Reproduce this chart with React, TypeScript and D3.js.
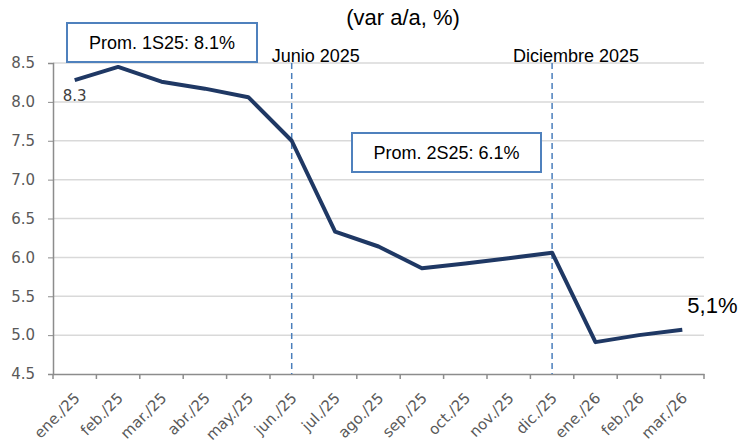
import React, { useRef, useEffect } from "react";
import * as d3 from "d3";

const months = [
  "ene./25", "feb./25", "mar./25", "abr./25", "may./25", "jun./25", "jul./25",
  "ago./25", "sep./25", "oct./25", "nov./25", "dic./25", "ene./26", "feb./26", "mar./26",
];
const inflation = [8.28, 8.45, 8.26, 8.17, 8.06, 7.5, 6.33, 6.14, 5.86, 5.92, 5.99, 6.06, 4.91, 5.0, 5.07];
const yTicks = [4.5, 5.0, 5.5, 6.0, 6.5, 7.0, 7.5, 8.0, 8.5];
const markers = [
  { month: "jun./25", label: "Junio 2025" },
  { month: "dic./25", label: "Diciembre 2025" },
];
const averages = [
  { label: "Prom. 1S25: 8.1%", x0: 67, y0: 23, x1: 257, y1: 62 },
  { label: "Prom. 2S25: 6.1%", x0: 352, y0: 133, x1: 541, y1: 172 },
];

function App() {
  const svgRef = useRef<SVGSVGElement | null>(null);

  useEffect(() => {
    const width = 741;
    const height = 448;
    const margin = { top: 63, right: 37, bottom: 74, left: 53 };
    const font = "'Liberation Sans', Arial, sans-serif";
    const axisFont = "'DejaVu Sans', Verdana, sans-serif";

    const svg = d3.select(svgRef.current);
    svg.selectAll("*").remove();
    svg.attr("width", width).attr("height", height);

    const x = d3.scaleBand().domain(months).range([margin.left, width - margin.right]);
    const y = d3.scaleLinear().domain([4.5, 8.5]).range([height - margin.bottom, margin.top]);
    const cx = (m: string) => (x(m) as number) + x.bandwidth() / 2;

    // grid
    svg.append("g")
      .selectAll("line")
      .data(yTicks.slice(1))
      .enter()
      .append("line")
      .attr("x1", margin.left)
      .attr("x2", width - margin.right)
      .attr("y1", (d) => y(d))
      .attr("y2", (d) => y(d))
      .attr("stroke", "#d9d9d9")
      .attr("stroke-width", 1.5);

    // y axis
    const yAxis = svg.append("g")
      .attr("transform", `translate(${margin.left},0)`)
      .call(d3.axisLeft(y).tickValues(yTicks).tickFormat(d3.format(".1f")).tickSize(5).tickPadding(13));
    yAxis.select(".domain").attr("stroke", "#8c8c8c").attr("stroke-width", 1.5);
    yAxis.selectAll(".tick line").attr("stroke", "#8c8c8c");
    yAxis.selectAll("text")
      .attr("fill", "#595959")
      .style("font-family", axisFont)
      .style("font-size", "15px");

    // x axis
    const xAxis = svg.append("g")
      .attr("transform", `translate(0,${height - margin.bottom})`)
      .call(d3.axisBottom(x).tickSize(0).tickFormat(() => ""));
    xAxis.select(".domain").attr("stroke", "#8c8c8c").attr("stroke-width", 1.5);
    xAxis.selectAll(".tick").remove();

    const bounds = months.map((m) => x(m) as number).concat([width - margin.right]);
    svg.append("g")
      .selectAll("line")
      .data(bounds)
      .enter()
      .append("line")
      .attr("x1", (d) => d)
      .attr("x2", (d) => d)
      .attr("y1", height - margin.bottom)
      .attr("y2", height - margin.bottom + 5)
      .attr("stroke", "#8c8c8c")
      .attr("stroke-width", 1.5);

    svg.append("g")
      .selectAll("text")
      .data(months)
      .enter()
      .append("text")
      .attr("transform", (d) => `translate(${cx(d) + 6},${height - margin.bottom + 25}) rotate(-45)`)
      .attr("text-anchor", "end")
      .attr("fill", "#595959")
      .style("font-family", axisFont)
      .style("font-size", "15px")
      .text((d) => d);

    // vertical markers
    markers.forEach((mk) => {
      svg.append("line")
        .attr("x1", cx(mk.month))
        .attr("x2", cx(mk.month))
        .attr("y1", y(8.5))
        .attr("y2", y(4.5))
        .attr("stroke", "#4a7ebb")
        .attr("stroke-width", 1.5)
        .attr("stroke-dasharray", "6,4");
      svg.append("text")
        .attr("x", cx(mk.month) + 24)
        .attr("y", y(8.5) - 1)
        .attr("text-anchor", "middle")
        .attr("fill", "#000")
        .style("font-family", font)
        .style("font-size", "18px")
        .text(mk.label);
    });

    // line
    const line = d3.line<number>()
      .x((_, i) => cx(months[i]))
      .y((d) => y(d));
    svg.append("path")
      .datum(inflation)
      .attr("fill", "none")
      .attr("stroke", "#1f3864")
      .attr("stroke-width", 4)
      .attr("stroke-linejoin", "round")
      .attr("d", line);

    // average boxes
    averages.forEach((a) => {
      svg.append("rect")
        .attr("x", a.x0)
        .attr("y", a.y0)
        .attr("width", a.x1 - a.x0)
        .attr("height", a.y1 - a.y0)
        .attr("fill", "#fff")
        .attr("stroke", "#4f81bd")
        .attr("stroke-width", 2);
      svg.append("text")
        .attr("x", (a.x0 + a.x1) / 2)
        .attr("y", (a.y0 + a.y1) / 2 + 6)
        .attr("text-anchor", "middle")
        .attr("fill", "#000")
        .style("font-family", font)
        .style("font-size", "18px")
        .text(a.label);
    });

    // data labels
    svg.append("text")
      .attr("x", cx(months[0]) - 12)
      .attr("y", y(inflation[0]) + 21)
      .attr("fill", "#404040")
      .style("font-family", axisFont)
      .style("font-size", "15px")
      .text(d3.format(".1f")(inflation[0]));

    svg.append("text")
      .attr("x", cx(months[months.length - 1]) + 5)
      .attr("y", y(inflation[inflation.length - 1]) - 17)
      .attr("fill", "#000")
      .style("font-family", font)
      .style("font-size", "22px")
      .text("5,1%");

    // title
    svg.append("text")
      .attr("x", 403)
      .attr("y", 25)
      .attr("text-anchor", "middle")
      .attr("fill", "#000")
      .style("font-family", font)
      .style("font-size", "22px")
      .text("(var a/a, %)");
  }, []);

  return (
    <svg ref={svgRef} style={{ position: "absolute", left: 0, top: 0, background: "#fff" }}></svg>
  );
}

export default App;
